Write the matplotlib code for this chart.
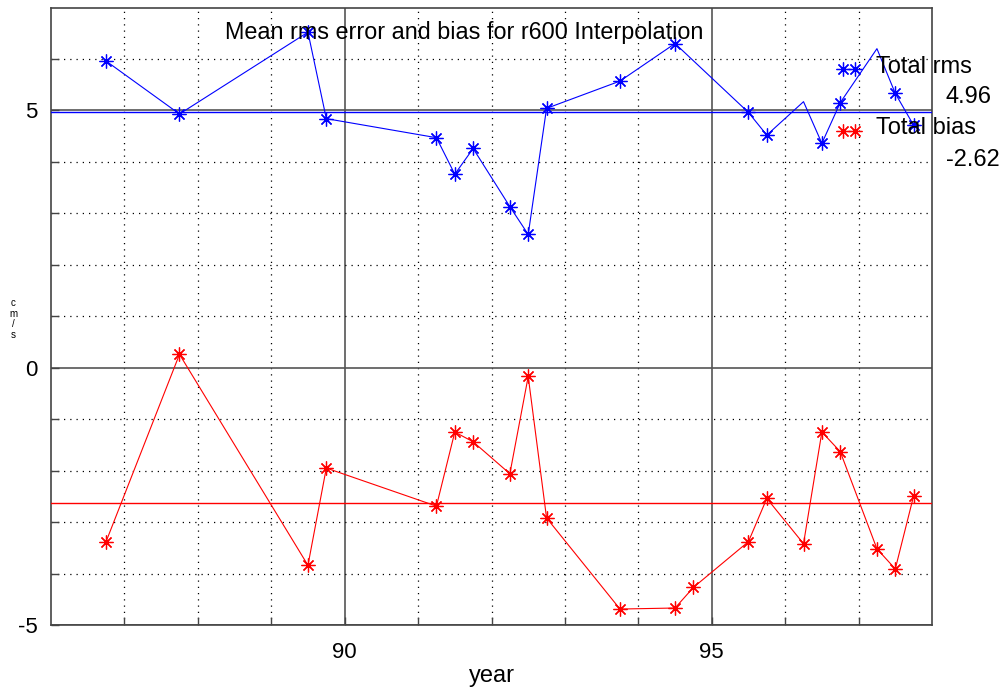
# Mean rms error and bias, r600 interpolation

import matplotlib
matplotlib.use("Agg")
import matplotlib.pyplot as plt
import numpy as np

plt.rcParams['font.family'] = ['Liberation Sans', 'DejaVu Sans']

rms_years = np.array([86.75, 87.75, 89.5, 89.75, 91.25, 91.5, 91.75, 92.25, 92.5, 92.75,
                      93.75, 94.5, 95.5, 95.75, 96.25, 96.5, 96.75, 97.25, 97.5, 97.75])
rms_vals = np.array([5.96, 4.93, 6.52, 4.84, 4.47, 3.76, 4.26, 3.13, 2.59, 5.04,
                     5.57, 6.30, 4.96, 4.52, 5.17, 4.36, 5.15, 6.20, 5.33, 4.71])
# points drawn without a marker in the original
rms_no_marker = [14, 17]

bias_years = np.array([86.75, 87.75, 89.5, 89.75, 91.25, 91.5, 91.75, 92.25, 92.5, 92.75,
                       93.75, 94.5, 94.75, 95.5, 95.75, 96.25, 96.5, 96.75, 97.25, 97.5, 97.75])
bias_vals = np.array([-3.38, 0.26, -3.84, -1.95, -2.69, -1.25, -1.44, -2.06, -0.17, -2.92,
                      -4.69, -4.67, -4.27, -3.38, -2.54, -3.42, -1.25, -1.63, -3.52, -3.91, -2.49])

total_rms = 4.96
total_bias = -2.62

fig = plt.figure(figsize=(10.03, 6.87), dpi=100)
ax = fig.add_axes([51/1003, 62/687, 881/1003, 617.5/687])

ast = (8, 2, 0)
mk_rms = [i for i in range(len(rms_years)) if i not in rms_no_marker]

ax.axhline(total_rms, color='blue', lw=1, zorder=3)
ax.axhline(total_bias, color='red', lw=1, zorder=3)
ax.plot(rms_years, rms_vals, color='blue', lw=0.8, marker=ast, markersize=10,
        markeredgewidth=0.9, markevery=mk_rms, zorder=4)
ax.plot(bias_years, bias_vals, color='red', lw=0.8, marker=ast, markersize=10,
        markeredgewidth=0.9, zorder=4)

ax.set_xlim(86, 98)
ax.set_ylim(-5, 7)
ax.set_xticks([90, 95])
ax.set_xticks(np.arange(87, 98), minor=True)
ax.set_yticks([-5, 0, 5])
ax.set_yticks(np.arange(-4, 7), minor=True)
ax.set_xticklabels(['90', '95'])
ax.set_yticklabels(['-5', '0', '5'])
ax.tick_params(which='both', direction='in', length=6, width=1, color='#444444',
               labelsize=16, pad=12)
ax.tick_params(axis='y', pad=9.5)
ax.grid(which='major', color='#555555', lw=1.2, ls='-')
ax.grid(which='minor', color='black', lw=0.9, ls=(0, (1, 4)))
ax.set_axisbelow(True)
for s in ax.spines.values():
    s.set_color('#444444')
    s.set_linewidth(1.2)

ax.set_xlabel('year', fontsize=17, labelpad=2)
fig.text(13/1003, 1 - 319/687, 'c\nm\n/\ns', fontsize=7, ha='center', va='center',
         linespacing=1.05)

fig.text(464/1003, 1 - 33/687, 'Mean rms error and bias for r600 Interpolation',
         fontsize=16.8, ha='center', va='center')

# legend
fig.text(876/1003, 1 - 67/687, 'Total rms', fontsize=17, ha='left', va='center')
fig.text(992/1003, 1 - 97/687, f'{total_rms:.2f}', fontsize=17, ha='right', va='center')
fig.text(876/1003, 1 - 128/687, 'Total bias', fontsize=17, ha='left', va='center')
fig.text(1000/1003, 1 - 160/687, f'{total_bias:.2f}', fontsize=17, ha='right', va='center')
fig.add_artist(plt.Line2D([843/1003, 855/1003], [1 - 69/687, 1 - 69/687], color='blue',
                          lw=0.8, marker=ast, markersize=10, markeredgewidth=0.9))
fig.add_artist(plt.Line2D([843/1003, 855/1003], [1 - 131/687, 1 - 131/687], color='red',
                          lw=0.8, marker=ast, markersize=10, markeredgewidth=0.9))

plt.savefig('out.png', dpi=100)
